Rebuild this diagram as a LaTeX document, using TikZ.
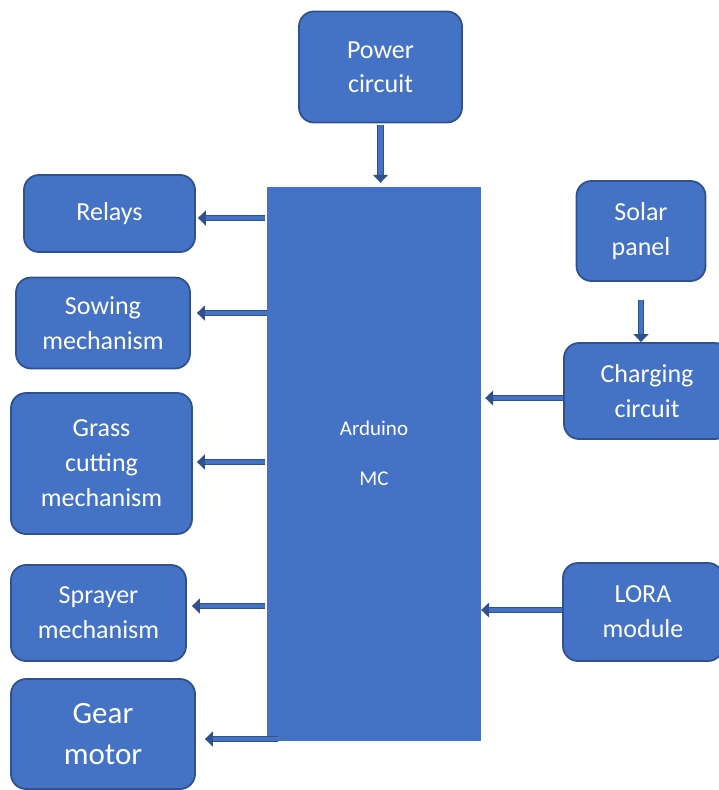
\documentclass[tikz,border=0pt]{standalone}
\usepackage{fontspec}
\setmainfont{Carlito}
\usetikzlibrary{arrows.meta}
\definecolor{boxblue}{HTML}{4472C4}
\definecolor{edgeblue}{HTML}{2F528F}

\begin{document}
\begin{tikzpicture}[x = 1pt, y = -1pt]
\tikzstyle{every node} = [text = white, align = center, font = \fontsize{26}{35}\selectfont]
\tikzstyle{block} = [draw = edgeblue, fill = boxblue, line width = 1.8pt, rounded corners = 15pt]
\tikzstyle{link} = [draw = edgeblue, line width = 1.3pt, double = boxblue, double distance = 4.3pt, -{Triangle[length = 8pt, width = 15pt]}]

\useasboundingbox (0, 0) rectangle (718, 790);

\node[fill = boxblue, minimum width = 214pt, minimum height = 554pt, label = {[yshift = 11pt, font = \fontsize{21}{25}\selectfont] center:Arduino\\[25pt]MC}] (1) at (374, 464) {};
\node[block, minimum width = 163pt, minimum height = 111pt, font = \fontsize{26}{34}\selectfont] (2) at (380.5, 67) {Power\\circuit};
\node[block, minimum width = 171pt, minimum height = 77pt] (3) at (109.5, 213.5) {Relays};
\node[block, minimum width = 174pt, minimum height = 91pt] (4) at (103, 323) {Sowing\\mechanism};
\node[block, minimum width = 181pt, minimum height = 141pt] (5) at (101.5, 463.5) {Grass\\cutting\\mechanism};
\node[block, minimum width = 175pt, minimum height = 96pt] (6) at (98.5, 613) {Sprayer\\mechanism};
\node[block, minimum width = 184pt, minimum height = 110pt, font = \fontsize{31}{41}\selectfont] (7) at (103, 734) {Gear\\motor};
\node[block, minimum width = 129pt, minimum height = 100pt] (8) at (641, 231) {Solar\\panel};
\node[block, minimum width = 166pt, minimum height = 96pt] (9) at (647, 391) {Charging\\circuit};
\node[block, minimum width = 160pt, minimum height = 98pt] (10) at (643, 612) {LORA\\module};

\draw[link] ([yshift = -2pt] 2.south) -- ([yshift = 4pt] 2.south |- 1.north);
\draw[link] ([xshift = -2pt] 1.west |- 0, 218) -- ([xshift = 2pt] 3.east |- 0, 218);
\draw[link] (1.west |- 0, 313) -- ([xshift = 6pt] 4.east |- 0, 313);
\draw[link] ([xshift = -2pt] 1.west |- 0, 462) -- ([xshift = 4pt] 5.east |- 0, 462);
\draw[link] ([xshift = -2pt] 1.west |- 0, 606) -- ([xshift = 5pt] 6.east |- 0, 606);
\draw[link] ([xshift = 11pt] 1.west |- 0, 739) -- ([xshift = 9pt] 7.east |- 0, 739);
\draw[link] ([yshift = -18pt] 8.south) -- (8.south |- 9.north);
\draw[link] (9.west |- 0, 398) -- ([xshift = 4pt] 1.east |- 0, 398);
\draw[link] (10.west |- 0, 610) -- (1.east |- 0, 610);
\end{tikzpicture}
\end{document}
